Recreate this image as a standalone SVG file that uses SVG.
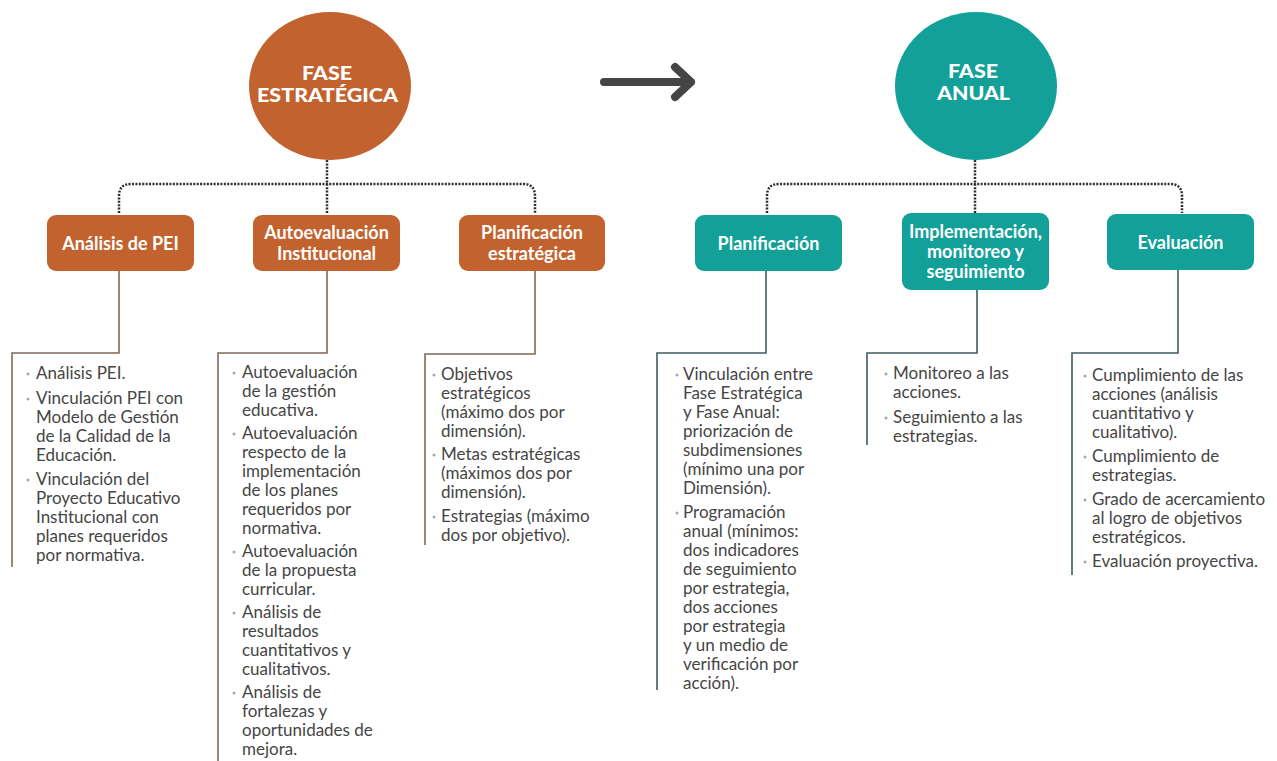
<svg xmlns="http://www.w3.org/2000/svg" width="1277" height="761" viewBox="0 0 1277 761">
<style>
.or{fill:#c2622e}
.te{fill:#12a098}
.big{font-family:Lato,"Open Sans",sans-serif;font-weight:900;font-size:19px;fill:#ffffff;text-anchor:middle}
.ttl{font-family:Lato,"Open Sans",sans-serif;font-weight:700;font-size:18px;fill:#ffffff;text-anchor:middle}
.txt{font-family:Lato,"Open Sans",sans-serif;font-size:17px;fill:#454545}
.bul{fill:#a8a8a8}
.dot{fill:none;stroke:#2e2e2e;stroke-width:2.5;stroke-dasharray:2 1.4}
.so{fill:none;stroke:#7f6a58;stroke-width:1.6}
.st{fill:none;stroke:#3e5d60;stroke-width:1.6}
</style>
<rect width="1277" height="761" fill="#ffffff"/>
<g id="connectors">
  <path class="dot" d="M327,160 V213"/>
  <path class="dot" d="M119,213 V196 Q119,184 131,184 H523 Q535,184 535,196 V213"/>
  <path class="dot" d="M975,160 V213"/>
  <path class="dot" d="M767,213 V196 Q767,184 779,184 H1170 Q1182,184 1182,196 V213"/>
  <path class="so" d="M119,271 V353 H12 V567"/>
  <path class="so" d="M327,270 V353 H218 V761"/>
  <path class="so" d="M535,270 V354 H425 V545"/>
  <path class="st" d="M766,271 V353 H657 V690"/>
  <path class="st" d="M977,290 V353 H867 V445"/>
  <path class="st" d="M1178,270 V353 H1072 V575"/>
  <g id="arrow">
    <path d="M604,82 H691 M675,67 L691,82 L675,97" fill="none" stroke="#454545" stroke-width="8" stroke-linecap="round" stroke-linejoin="round"/>
  </g>
</g>
<g id="fase-estrategica">
  <ellipse class="or" cx="330" cy="86" rx="81" ry="74"/>
  <text class="big" x="327" y="80" textLength="50" lengthAdjust="spacingAndGlyphs">FASE</text>
  <text class="big" x="327.5" y="102" textLength="141" lengthAdjust="spacingAndGlyphs">ESTRATÉGICA</text>
</g>
<g id="fase-anual">
  <ellipse class="te" cx="976" cy="86" rx="81" ry="74"/>
  <text class="big" x="973" y="78" textLength="50" lengthAdjust="spacingAndGlyphs">FASE</text>
  <text class="big" x="973.5" y="100" textLength="73" lengthAdjust="spacingAndGlyphs">ANUAL</text>
</g>
<g id="analisis-pei">
  <rect class="or" x="47" y="215" width="147" height="56" rx="9"/>
  <text class="ttl" x="120.5" y="250">Análisis de PEI</text>
</g>
<g id="autoevaluacion">
  <rect class="or" x="253" y="215" width="147" height="56" rx="9"/>
  <text class="ttl" x="326.5" y="239">Autoevaluación</text>
  <text class="ttl" x="326.5" y="260">Institucional</text>
</g>
<g id="planificacion-estrategica">
  <rect class="or" x="459" y="215" width="146" height="56" rx="9"/>
  <text class="ttl" x="532" y="239">Planificación</text>
  <text class="ttl" x="532" y="260">estratégica</text>
</g>
<g id="planificacion">
  <rect class="te" x="695" y="215" width="147" height="56" rx="9"/>
  <text class="ttl" x="768.5" y="250">Planificación</text>
</g>
<g id="implementacion">
  <rect class="te" x="902" y="213" width="147" height="77" rx="9"/>
  <text class="ttl" x="975.5" y="238">Implementación,</text>
  <text class="ttl" x="975.5" y="258">monitoreo y</text>
  <text class="ttl" x="975.5" y="278">seguimiento</text>
</g>
<g id="evaluacion">
  <rect class="te" x="1107" y="214" width="147" height="56" rx="9"/>
  <text class="ttl" x="1180.5" y="249">Evaluación</text>
</g>
<g id="list-analisis-pei">
  <circle class="bul" cx="28" cy="374" r="1.5"/>
  <circle class="bul" cx="28" cy="399" r="1.5"/>
  <circle class="bul" cx="28" cy="480" r="1.5"/>
  <text class="txt" x="36" y="379">Análisis PEI.</text>
  <text class="txt" x="36" y="404">Vinculación PEI con</text>
  <text class="txt" x="36" y="423">Modelo de Gestión</text>
  <text class="txt" x="36" y="442">de la Calidad de la</text>
  <text class="txt" x="36" y="461">Educación.</text>
  <text class="txt" x="36" y="485">Vinculación del</text>
  <text class="txt" x="36" y="504">Proyecto Educativo</text>
  <text class="txt" x="36" y="523">Institucional con</text>
  <text class="txt" x="36" y="542">planes requeridos</text>
  <text class="txt" x="36" y="561">por normativa.</text>
</g>
<g id="list-autoevaluacion">
  <circle class="bul" cx="234" cy="373" r="1.5"/>
  <circle class="bul" cx="234" cy="434" r="1.5"/>
  <circle class="bul" cx="234" cy="552" r="1.5"/>
  <circle class="bul" cx="234" cy="613" r="1.5"/>
  <circle class="bul" cx="234" cy="693" r="1.5"/>
  <text class="txt" x="242" y="378">Autoevaluación</text>
  <text class="txt" x="242" y="397">de la gestión</text>
  <text class="txt" x="242" y="416">educativa.</text>
  <text class="txt" x="242" y="439">Autoevaluación</text>
  <text class="txt" x="242" y="458">respecto de la</text>
  <text class="txt" x="242" y="477">implementación</text>
  <text class="txt" x="242" y="496">de los planes</text>
  <text class="txt" x="242" y="515">requeridos por</text>
  <text class="txt" x="242" y="534">normativa.</text>
  <text class="txt" x="242" y="557">Autoevaluación</text>
  <text class="txt" x="242" y="576">de la propuesta</text>
  <text class="txt" x="242" y="595">curricular.</text>
  <text class="txt" x="242" y="618">Análisis de</text>
  <text class="txt" x="242" y="637">resultados</text>
  <text class="txt" x="242" y="656">cuantitativos y</text>
  <text class="txt" x="242" y="675">cualitativos.</text>
  <text class="txt" x="242" y="698">Análisis de</text>
  <text class="txt" x="242" y="717">fortalezas y</text>
  <text class="txt" x="242" y="736">oportunidades de</text>
  <text class="txt" x="242" y="755">mejora.</text>
</g>
<g id="list-planificacion-estrategica">
  <circle class="bul" cx="434" cy="375" r="1.5"/>
  <circle class="bul" cx="434" cy="455" r="1.5"/>
  <circle class="bul" cx="434" cy="517" r="1.5"/>
  <text class="txt" x="441" y="380">Objetivos</text>
  <text class="txt" x="441" y="399">estratégicos</text>
  <text class="txt" x="441" y="418">(máximo dos por</text>
  <text class="txt" x="441" y="437">dimensión).</text>
  <text class="txt" x="441" y="460">Metas estratégicas</text>
  <text class="txt" x="441" y="479">(máximos dos por</text>
  <text class="txt" x="441" y="498">dimensión).</text>
  <text class="txt" x="441" y="522">Estrategias (máximo</text>
  <text class="txt" x="441" y="541">dos por objetivo).</text>
</g>
<g id="list-planificacion">
  <circle class="bul" cx="677" cy="375" r="1.5"/>
  <circle class="bul" cx="677" cy="513" r="1.5"/>
  <text class="txt" x="683" y="380">Vinculación entre</text>
  <text class="txt" x="683" y="399">Fase Estratégica</text>
  <text class="txt" x="683" y="418">y Fase Anual:</text>
  <text class="txt" x="683" y="437">priorización de</text>
  <text class="txt" x="683" y="456">subdimensiones</text>
  <text class="txt" x="683" y="475">(mínimo una por</text>
  <text class="txt" x="683" y="494">Dimensión).</text>
  <text class="txt" x="683" y="518">Programación</text>
  <text class="txt" x="683" y="537">anual (mínimos:</text>
  <text class="txt" x="683" y="556">dos indicadores</text>
  <text class="txt" x="683" y="575">de seguimiento</text>
  <text class="txt" x="683" y="594">por estrategia,</text>
  <text class="txt" x="683" y="613">dos acciones</text>
  <text class="txt" x="683" y="632">por estrategia</text>
  <text class="txt" x="683" y="651">y un medio de</text>
  <text class="txt" x="683" y="670">verificación por</text>
  <text class="txt" x="683" y="689">acción).</text>
</g>
<g id="list-implementacion">
  <circle class="bul" cx="886" cy="374" r="1.5"/>
  <circle class="bul" cx="886" cy="418" r="1.5"/>
  <text class="txt" x="893" y="379">Monitoreo a las</text>
  <text class="txt" x="893" y="398">acciones.</text>
  <text class="txt" x="893" y="423">Seguimiento a las</text>
  <text class="txt" x="893" y="442">estrategias.</text>
</g>
<g id="list-evaluacion">
  <circle class="bul" cx="1085" cy="376" r="1.5"/>
  <circle class="bul" cx="1085" cy="457" r="1.5"/>
  <circle class="bul" cx="1085" cy="500" r="1.5"/>
  <circle class="bul" cx="1085" cy="562" r="1.5"/>
  <text class="txt" x="1092" y="381">Cumplimiento de las</text>
  <text class="txt" x="1092" y="400">acciones (análisis</text>
  <text class="txt" x="1092" y="419">cuantitativo y</text>
  <text class="txt" x="1092" y="438">cualitativo).</text>
  <text class="txt" x="1092" y="462">Cumplimiento de</text>
  <text class="txt" x="1092" y="481">estrategias.</text>
  <text class="txt" x="1092" y="505">Grado de acercamiento</text>
  <text class="txt" x="1092" y="524">al logro de objetivos</text>
  <text class="txt" x="1092" y="543">estratégicos.</text>
  <text class="txt" x="1092" y="567">Evaluación proyectiva.</text>
</g>
</svg>
